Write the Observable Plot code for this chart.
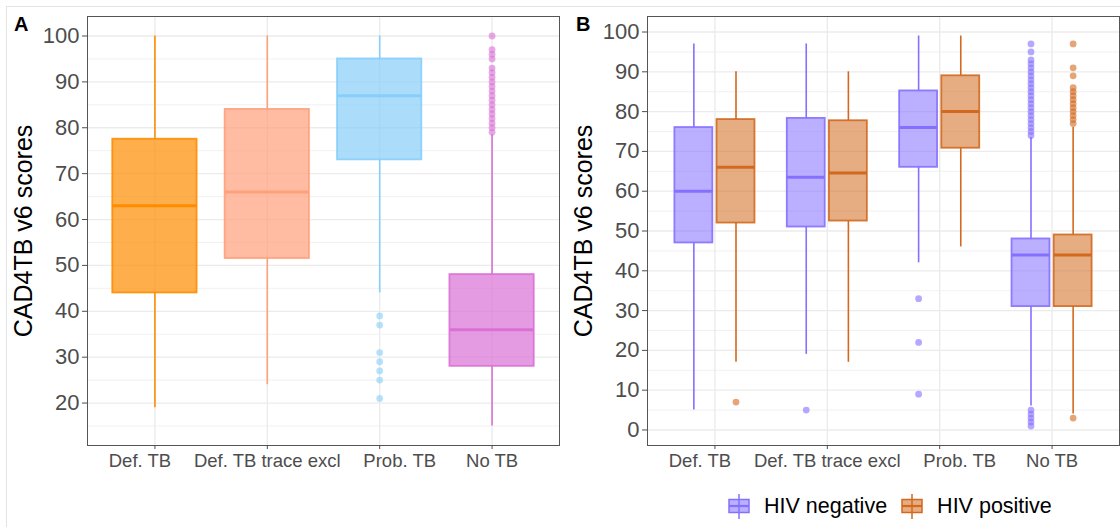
<!DOCTYPE html>
<html><head><meta charset="utf-8">
<script src="https://cdn.jsdelivr.net/npm/d3@7"></script>
<script src="https://cdn.jsdelivr.net/npm/@observablehq/plot@0.6"></script>
<style>
body{margin:0;background:#fff;font-family:"Liberation Sans",Arial,sans-serif;}
#wrap{position:relative;width:1120px;height:527px;overflow:hidden;background:#fff;}
.panel{position:absolute;top:0;}
.tag{position:absolute;font-weight:bold;font-size:20px;line-height:20px;color:#000;}
.outer{position:absolute;left:6px;top:6px;width:1200px;height:600px;border:1px solid #e3e3e3;box-sizing:border-box;}
g[aria-label="y-axis label"] text{font-size:25px;fill:#000;}
#legend{position:absolute;left:728px;top:494px;display:flex;align-items:center;font-size:21.5px;color:#000;}
#legend .item{display:flex;align-items:center;}
#legend svg{margin-right:14px;}
#legend .lab{margin-right:14px;}
</style></head><body>
<div id="wrap">
<div class="outer"></div>
<div id="pA" class="panel" style="left:0"></div>
<div id="pB" class="panel" style="left:560px"></div>
<div class="tag" style="left:14px;top:14px">A</div>
<div class="tag" style="left:576px;top:14px">B</div>
<div id="legend"></div>
</div>
<script>
// ---------- data ----------
const categories = ["Def. TB", "Def. TB trace excl", "Prob. TB", "No TB"];
const yLabel = "CAD4TB v6 scores";

// Panel A (all participants)
const aLow  = [19, 24, 44, 15];
const aQ1   = [44, 51.5, 73, 28];
const aMed  = [63, 66, 87, 36];
const aQ3   = [77.5, 84, 95, 48];
const aHigh = [100, 100, 100, 78.5];
const aOutliers = [
  [],
  [],
  [39, 37, 31, 29, 27, 25, 21],
  [79, 80, 81, 82, 83, 84, 85, 86, 87, 88, 89, 90, 91, 92, 93, 95, 96, 97, 100]
];
const aColors = ["#FF8C00", "#FFA07A", "#87CEFA", "#DA70D6"];
const aTicks = [20, 30, 40, 50, 60, 70, 80, 90, 100];

// Panel B (by HIV status)
const groups = ["HIV negative", "HIV positive"];
const negLow  = [5, 19, 42, 6];
const negQ1   = [47, 51, 66, 31];
const negMed  = [60, 63.5, 76, 44];
const negQ3   = [76, 78.3, 85.2, 48];
const negHigh = [97, 97, 99, 73.5];
const negOutliers = [
  [],
  [5],
  [33, 22, 9],
  [74, 75, 76, 77, 78, 79, 80, 81, 82, 83, 84, 85, 86, 87, 88, 89, 90, 91, 92, 93, 95, 97, 1, 2, 3, 4, 5]
];
const posLow  = [17, 17, 46, 4];
const posQ1   = [52, 52.5, 70.8, 31];
const posMed  = [66, 64.6, 80, 44];
const posQ3   = [78, 77.7, 89, 49];
const posHigh = [90, 90, 99, 76];
const posOutliers = [
  [7],
  [],
  [],
  [77, 78, 79, 80, 81, 82, 83, 84, 85, 86, 89, 91, 97, 3]
];
const bColors = ["#8470FF", "#D2691E"];
const bTicks = [0, 10, 20, 30, 40, 50, 60, 70, 80, 90, 100];

// ---------- styling ----------
const BOX = 0.75;      // ggplot default box width (fraction of category step)
const DODGE_PAD = 0.1; // position_dodge2 padding
const LABEL_SHIFT = [-15, 0, 20, 0]; // horizontal nudge of x tick labels (px), as in the original
const font = "Liberation Sans, Arial, sans-serif";

function expandDomain(vals) {
  const [lo, hi] = d3.extent(vals);
  const p = (hi - lo) * 0.05;
  return [lo - p, hi + p];
}
function minorTicks(ticks, dom) {
  const out = [];
  const step = ticks[1] - ticks[0];
  for (let t = ticks[0] - step / 2; t <= ticks[ticks.length - 1] + step / 2; t += step)
    if (t >= dom[0] && t <= dom[1]) out.push(t);
  return out;
}

function boxPlot(rows, outs, ticks, colorDomain, colorRange, fillOpacity) {
  const all = rows.flatMap(d => [d.low, d.high]).concat(outs.map(d => d.v));
  const dom = expandDomain(all);
  const idx = categories.map((c, i) => i + 1);
  return Plot.plot({
    width: 560, height: 527,
    marginLeft: 87, marginRight: 1, marginTop: 16, marginBottom: 82,
    style: {fontFamily: font, fontSize: "18.5px", background: "transparent"},
    x: {domain: [0.4, 4.6]},
    y: {domain: dom},
    color: {domain: colorDomain, range: colorRange},
    marks: [
      Plot.ruleY(minorTicks(ticks, dom), {stroke: "#EEEEEE", strokeWidth: 0.8}),
      Plot.ruleY(ticks, {stroke: "#EBEBEB", strokeWidth: 1.3}),
      Plot.ruleX(idx, {stroke: "#EBEBEB", strokeWidth: 1.3}),
      Plot.ruleX(rows, {x: "c", y1: "low", y2: "q1", stroke: "key", strokeWidth: 1.6}),
      Plot.ruleX(rows, {x: "c", y1: "q3", y2: "high", stroke: "key", strokeWidth: 1.6}),
      Plot.rect(rows, {x1: d => d.c - d.hw, x2: d => d.c + d.hw, y1: "q1", y2: "q3",
        fill: "key", fillOpacity, stroke: "key", strokeWidth: 1.8, strokeOpacity: 0.9}),
      Plot.ruleY(rows, {x1: d => d.c - d.hw, x2: d => d.c + d.hw, y: "med", stroke: "key", strokeWidth: 3}),
      Plot.dot(outs, {x: "c", y: "v", fill: "key", fillOpacity: 0.6, r: 3.4}),
      Plot.frame({stroke: "#555", strokeWidth: 1}),
      // x ticks
      Plot.axisX({ticks: idx, tickSize: 4, tickFormat: () => "", color: "#4D4D4D", label: null}),
      // x tick labels (one per category, nudged like the original)
      ...idx.map((t, k) => Plot.axisX({ticks: [t], tickSize: 0, tickPadding: 8, dx: LABEL_SHIFT[k],
        tickFormat: i => categories[i - 1], fontSize: 18.5, color: "#4D4D4D", label: null})),
      Plot.axisY({ticks, tickSize: 5, tickPadding: 3, fontSize: 22, color: "#4D4D4D",
        label: yLabel, labelAnchor: "center", labelArrow: "none", labelOffset: 73})
    ]
  });
}

// Panel A rows
const rowsA = categories.map((cat, i) => ({key: cat, c: i + 1, hw: BOX / 2,
  low: aLow[i], q1: aQ1[i], med: aMed[i], q3: aQ3[i], high: aHigh[i]}));
const outsA = categories.flatMap((cat, i) => aOutliers[i].map(v => ({key: cat, c: i + 1, v})));
document.getElementById("pA").append(boxPlot(rowsA, outsA, aTicks, categories, aColors, 0.7));

// Panel B rows (dodged)
const bStats = [
  {low: negLow, q1: negQ1, med: negMed, q3: negQ3, high: negHigh, outs: negOutliers},
  {low: posLow, q1: posQ1, med: posMed, q3: posQ3, high: posHigh, outs: posOutliers}
];
const slot = BOX / groups.length;
const rowsB = [], outsB = [];
groups.forEach((g, gi) => {
  const s = bStats[gi];
  categories.forEach((cat, i) => {
    const c = i + 1 + (gi - (groups.length - 1) / 2) * slot;
    rowsB.push({key: g, c, hw: slot * (1 - DODGE_PAD) / 2,
      low: s.low[i], q1: s.q1[i], med: s.med[i], q3: s.q3[i], high: s.high[i]});
    s.outs[i].forEach(v => outsB.push({key: g, c, v}));
  });
});
document.getElementById("pB").append(boxPlot(rowsB, outsB, bTicks, groups, bColors, 0.55));

// Legend
const legend = document.getElementById("legend");
groups.forEach((g, gi) => {
  const col = bColors[gi];
  const item = document.createElement("div");
  item.className = "item";
  item.innerHTML = `<svg width="22" height="25" viewBox="0 0 22 25">
    <line x1="11" x2="11" y1="0" y2="25" stroke="${col}" stroke-width="1.5"/>
    <rect x="1" y="5.5" width="20" height="13" fill="${col}" fill-opacity="0.55" stroke="${col}" stroke-width="1.5"/>
    <line x1="1" x2="21" y1="12" y2="12" stroke="${col}" stroke-width="2.2"/>
  </svg><span class="lab">${g}</span>`;
  legend.append(item);
});
</script>
</body></html>
